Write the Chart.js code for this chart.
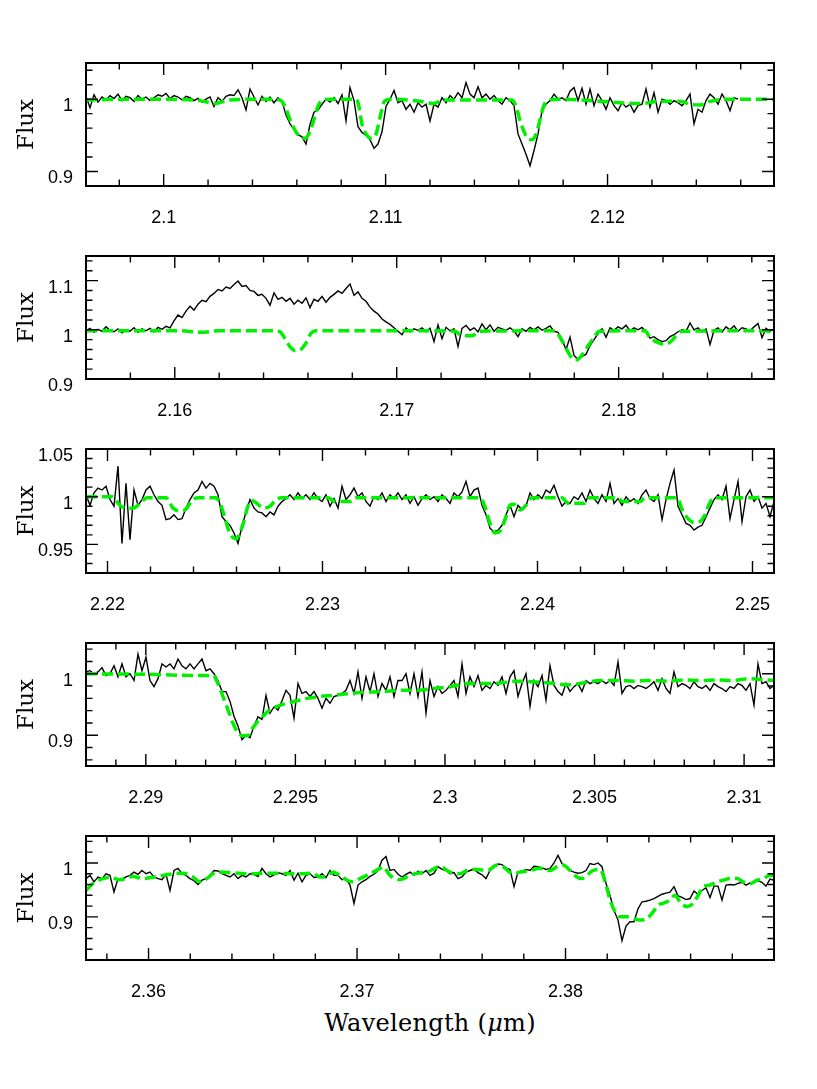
<!DOCTYPE html>
<html>
<head>
<meta charset="utf-8">
<title>Spettri</title>
<script src="https://cdn.jsdelivr.net/npm/chart.js@4.4.1/dist/chart.umd.min.js"></script>
<style>
  body { margin: 0; background: #fff; }
  #pagina { position: relative; width: 817px; height: 1089px; overflow: hidden; background: #fff; }
  #pagina canvas { position: absolute; left: 0; }
  #asseX { position: absolute; left: 86px; width: 688px; top: 1010px; text-align: center;
           font-family: "DejaVu Serif", serif; font-size: 24px; line-height: 26px; letter-spacing: 0.3px; color: #000; }
</style>
</head>
<body>
<div id="pagina">
  <div id="asseX">Wavelength (<i>μ</i>m)</div>
</div>
<script>
  // Pannello 1 (spettro a passo costante in lunghezza d'onda)
  var inizio1 = 2.0965, passo1 = 0.00018024;
  var flusso1 = [
    1.004, 0.988, 1.006, 0.996, 1.003, 0.999, 1.005, 1.001, 1.007, 0.998,
    1.004, 1.002, 0.997, 1.005, 1.000, 1.003, 0.998, 1.002, 1.006, 1.004,
    1.008, 1.001, 1.005, 1.003, 0.999, 1.004, 1.002, 0.998, 1.001, 0.996,
    1.000, 1.003, 0.990, 1.002, 0.997, 1.004, 1.006, 1.005, 1.013, 1.002,
    0.985, 1.014, 1.003, 0.992, 1.004, 0.997, 1.003, 0.995, 1.002,
    0.997, 0.978, 0.966, 0.958, 0.951, 0.948, 0.938, 0.965, 0.982, 0.985, 0.993,
    1.000, 0.996, 1.002, 0.994, 1.006, 0.970, 1.016, 0.998,
    0.962, 0.954, 0.950, 0.944, 0.932, 0.938, 0.955, 0.990,
    1.000, 1.012, 0.995,
    0.998, 0.986, 0.993, 0.982, 0.995, 0.989, 0.993, 0.970, 0.993, 0.989,
    1.002, 0.995, 1.005, 1.000, 1.009, 1.002, 1.023, 1.007, 1.002, 1.017,
    1.002, 1.007, 1.000, 1.005, 0.998, 0.993, 1.002, 0.998, 0.991,
    0.952, 0.938, 0.924, 0.908, 0.929, 0.952, 0.984, 0.993, 0.998, 1.007,
    1.000, 1.002, 0.998, 1.011, 1.016, 0.998, 1.015, 0.993, 1.014, 0.991,
    1.007, 0.998, 0.986, 1.002, 0.991, 0.984, 0.995, 0.989, 0.993, 0.982,
    0.991, 0.993, 1.014, 0.989, 1.009, 0.982, 1.000, 0.998, 0.993, 0.998,
    0.995, 0.991, 0.998, 1.007, 0.966, 0.986, 0.982, 0.998, 1.007, 1.002,
    0.993, 1.007, 0.998, 0.984, 1.002, 1.000
  ];
  var modelloLambda1 = [
    2.0965, 2.09938, 2.10164, 2.10231, 2.10299, 2.10434, 2.10524, 2.10547, 2.10569, 2.10592,
    2.10614, 2.10637, 2.10659, 2.10677, 2.10695, 2.10713, 2.10750, 2.10862, 2.10876, 2.10894,
    2.10912, 2.10934, 2.10957, 2.10975, 2.10993, 2.11020, 2.11155, 2.11214, 2.11268, 2.11516,
    2.11570, 2.11588, 2.11606, 2.11624, 2.11642, 2.11660, 2.11678, 2.11696, 2.11714, 2.11732,
    2.11786, 2.11966, 2.12056, 2.12146, 2.12236, 2.12327, 2.12372, 2.12417, 2.12462, 2.12552,
    2.1275
  ];
  var modelloFlusso1 = [
    0.999, 1.000, 0.998, 0.994, 0.999, 1.000, 0.999, 0.990, 0.972, 0.957,
    0.948, 0.946, 0.955, 0.972, 0.990, 0.998, 1.000, 1.000, 0.995, 0.965,
    0.952, 0.946, 0.952, 0.975, 0.996, 1.000, 0.997, 0.994, 0.999, 0.999,
    0.999, 0.990, 0.970, 0.955, 0.945, 0.944, 0.952, 0.972, 0.992, 0.998,
    1.000, 0.997, 0.995, 0.994, 0.997, 0.997, 0.993, 0.992, 0.997, 1.000,
    1.000
  ];
  var etichetteX1 = [2.1, 2.11, 2.12];
  var etichetteY1 = [0.9, 1];

  // Pannello 2
  var inizio2 = 2.156, passo2 = 0.00018024;
  var flusso2 = [
    0.998, 1.003, 0.995, 1.001, 0.997, 1.006, 0.999, 0.996, 1.002, 0.994,
    1.000, 0.997, 1.004, 0.995, 1.002, 0.998, 1.003, 0.996, 1.005, 1.001,
    1.007, 1.004,
    1.018, 1.030, 1.025, 1.038, 1.048, 1.040, 1.052, 1.060, 1.057, 1.068,
    1.074, 1.082, 1.079, 1.087, 1.084, 1.092, 1.099, 1.088, 1.090, 1.080,
    1.078, 1.070, 1.072, 1.064, 1.050, 1.075, 1.062, 1.066, 1.058, 1.064,
    1.052, 1.060, 1.054, 1.065, 1.045, 1.062, 1.058, 1.068, 1.056, 1.066,
    1.072, 1.079, 1.074, 1.084, 1.093, 1.070, 1.077, 1.064, 1.058, 1.046,
    1.038, 1.032, 1.022, 1.016, 1.011, 1.004, 0.997, 0.990, 1.004, 0.996,
    1.002, 0.999,
    1.004, 0.996, 1.003, 0.976, 1.010, 0.982, 1.005, 0.998, 1.002, 0.966,
    1.003, 1.009, 0.999, 1.004, 0.996, 1.012, 1.000, 1.010, 0.997, 1.005,
    1.002, 0.999, 1.004, 0.998, 0.986, 1.002, 0.997, 1.005, 1.000, 1.006,
    0.999, 1.003, 1.008, 0.997, 0.995,
    0.980, 0.960, 0.985, 0.948, 0.940, 0.946, 0.950, 0.968, 0.980, 0.992, 1.002,
    0.985, 1.004, 0.999, 1.006, 1.002, 1.009, 0.998, 1.004, 1.000, 1.005, 0.996,
    0.983, 0.986, 0.980, 0.976, 0.978, 0.986, 0.990, 0.996,
    1.000, 0.997, 1.014, 1.000, 1.004, 0.996, 1.002, 0.970, 0.999, 1.004,
    0.995, 1.006, 1.000, 1.008, 0.997, 1.004, 1.002, 0.998, 1.006, 1.013,
    0.984, 1.003, 0.997, 1.002
  ];
  var modelloLambda2 = [
    2.156, 2.16024, 2.16114, 2.16204, 2.16452, 2.16474, 2.16497, 2.16519, 2.16542, 2.16564,
    2.16591, 2.16614, 2.16636, 2.17105, 2.17263, 2.17294, 2.17339, 2.17375, 2.17713, 2.17736,
    2.17758, 2.17781, 2.17799, 2.17817, 2.17840, 2.17862, 2.17889, 2.17912, 2.18119, 2.18141,
    2.18168, 2.18200, 2.18232, 2.18259, 2.18286, 2.18660, 2.187
  ];
  var modelloFlusso2 = [
    0.998, 0.998, 0.995, 0.998, 0.998, 0.996, 0.982, 0.966, 0.958, 0.959,
    0.973, 0.993, 0.998, 0.998, 0.997, 0.988, 0.988, 0.997, 0.998, 0.985,
    0.967, 0.948, 0.939, 0.940, 0.952, 0.967, 0.985, 0.997, 0.998, 0.984,
    0.976, 0.971, 0.975, 0.988, 0.997, 0.998, 0.994
  ];
  var etichetteX2 = [2.16, 2.17, 2.18];
  var etichetteY2 = [0.9, 1, 1.1];

  // Pannello 3
  var inizio3 = 2.219, passo3 = 0.00018605;
  var flusso3 = [
    1.002, 0.991, 1.004, 1.009, 1.007, 1.011, 0.997, 0.990, 1.032, 0.951,
    1.014, 0.955, 1.007, 0.991, 0.997, 1.007, 1.011, 1.002, 0.995, 0.991,
    0.976, 0.977, 0.981, 0.976, 0.977, 0.988, 0.997, 1.004, 1.007, 1.016,
    1.009, 1.014, 1.011, 1.002, 0.979, 0.974, 0.970, 0.962, 0.951, 0.969,
    0.984, 0.997, 0.988, 0.984, 0.983, 0.979, 0.984, 0.981, 0.990, 0.995,
    0.998, 1.002, 0.997, 1.004, 0.998, 1.002, 0.997, 1.004, 0.998, 0.995,
    1.002, 0.990, 0.998, 0.988, 1.011, 0.997, 1.002, 1.009, 1.000, 1.004,
    0.995, 0.990, 1.000, 0.997, 1.004, 0.995, 1.002, 0.998, 1.004,
    0.997, 1.002, 0.993, 1.000, 0.991, 0.998, 1.002, 0.997, 1.000, 0.995,
    1.002, 0.998, 0.993, 1.004, 1.000, 1.005, 1.016, 1.000, 1.007, 1.009,
    0.991, 0.981, 0.967, 0.963, 0.965, 0.970, 0.981, 0.991, 0.979, 0.991,
    0.986, 0.990, 1.004, 0.997, 1.002, 0.998, 1.007, 1.004, 1.012, 1.000,
    0.990, 0.995, 0.993, 1.000, 0.997, 1.004, 0.995, 1.007, 0.998, 0.993,
    1.002, 0.995, 1.014, 0.993, 0.998, 0.991, 1.000, 0.995, 0.998, 0.993,
    1.002, 1.007, 0.998, 0.995, 1.002, 0.976, 0.997, 1.014, 1.028, 0.990,
    0.981, 0.972, 0.970, 0.965, 0.968, 0.970, 0.979, 0.988, 0.997, 1.002,
    0.997, 1.011, 0.977, 0.997, 1.016, 0.974, 1.000, 1.007, 0.995, 1.000,
    0.988, 0.993, 0.979, 0.995
  ];
  var modelloLambda3 = [
    2.219, 2.22021, 2.22058, 2.22086, 2.22119, 2.22151, 2.22184, 2.22272, 2.22305, 2.22337,
    2.22365, 2.22393, 2.22421, 2.22505, 2.22523, 2.22542, 2.22560, 2.22579, 2.22598, 2.22616,
    2.22635, 2.22653, 2.22672, 2.22700, 2.22723, 2.22756, 2.22784, 2.22812, 2.23026, 2.23058,
    2.23128, 2.23156, 2.23733, 2.23756, 2.23779, 2.23802, 2.23826, 2.23849, 2.23872, 2.23891,
    2.23919, 2.23946, 2.23974, 2.24114, 2.24142, 2.24216, 2.24244, 2.24374, 2.24393, 2.24477,
    2.24500, 2.24649, 2.24672, 2.24700, 2.24728, 2.24756, 2.24779, 2.24798, 2.24821, 2.251
  ];
  var modelloFlusso3 = [
    1.000, 1.000, 0.991, 0.988, 0.988, 0.993, 0.999, 0.999, 0.988, 0.985,
    0.987, 0.996, 0.999, 0.999, 0.993, 0.981, 0.967, 0.958, 0.956, 0.962,
    0.975, 0.990, 0.996, 0.992, 0.988, 0.990, 0.997, 0.999, 0.999, 0.995,
    0.995, 0.999, 0.999, 0.989, 0.972, 0.962, 0.964, 0.976, 0.991, 0.992,
    0.986, 0.991, 0.999, 0.999, 0.993, 0.993, 0.999, 0.999, 0.995, 0.995,
    0.999, 0.999, 0.987, 0.977, 0.973, 0.974, 0.981, 0.992, 0.999, 0.999
  ];
  var etichetteX3 = [2.22, 2.23, 2.24, 2.25];
  var etichetteY3 = [0.95, 1, 1.05];

  // Pannello 4
  var inizio4 = 2.288, passo4 = 0.00013372;
  var flusso4 = [
    1.003, 1.005, 1.000, 1.003, 1.010, 0.997, 1.000, 1.013, 0.995, 1.016,
    0.995, 1.000, 0.989, 1.032, 1.005, 1.027, 0.989, 0.979, 0.992, 1.016,
    1.011, 1.016, 1.008, 1.024, 1.013, 1.008, 1.016, 1.008, 1.016, 1.024,
    1.005, 1.008, 1.000, 0.989, 0.971, 0.971, 0.955, 0.931, 0.915, 0.893,
    0.900, 0.896, 0.915, 0.930, 0.926, 0.965, 0.936, 0.946, 0.941, 0.956,
    0.973, 0.965, 0.928, 0.984, 0.968, 0.971, 0.963, 0.971, 0.960, 0.944,
    0.960, 0.952, 0.963, 0.965, 0.968, 0.973, 0.989, 0.968, 1.003, 0.960,
    0.995, 0.971, 1.000, 0.963, 0.984, 0.973, 0.995, 0.963, 0.989,
    0.989, 1.000, 0.968, 1.000, 0.963, 1.003, 0.936, 0.989, 0.963, 0.979,
    0.968, 0.973, 0.981, 0.989, 0.963, 1.016, 0.968, 0.995, 0.979, 0.997,
    0.973, 0.981, 0.976, 0.987, 0.981, 0.995, 0.968, 0.995, 1.005, 0.963,
    0.984, 1.000, 0.947, 0.989, 0.979, 0.997, 0.957, 1.013, 0.981, 0.971,
    0.965, 0.984, 0.971, 0.979, 0.984, 0.971, 0.989, 0.984, 0.987, 0.984,
    0.989, 0.984, 0.989, 0.981, 1.019, 0.968, 0.979, 0.981, 0.976, 0.981,
    0.979, 0.976, 0.981, 0.987, 0.973, 0.992, 0.976, 0.968, 1.003, 0.979,
    0.984, 0.981, 0.976, 0.987, 0.979, 0.976, 0.981, 0.973, 0.984, 0.979,
    0.976, 0.971, 0.979, 0.976, 0.984, 0.981, 0.973, 0.984, 0.949, 1.016,
    0.984, 0.987, 0.976, 0.981
  ];
  var modelloLambda4 = [
    2.288, 2.29014, 2.29181, 2.29225, 2.29241, 2.29258, 2.29275, 2.29291, 2.29308, 2.29325,
    2.29342, 2.29358, 2.29375, 2.29392, 2.29408, 2.29439, 2.29472, 2.29505, 2.29539, 2.29582,
    2.29626, 2.29683, 2.29739, 2.29793, 2.29850, 2.29907, 2.29960, 2.30017, 2.30074, 2.30127,
    2.30184, 2.30241, 2.30294, 2.30351, 2.30408, 2.30461, 2.30518, 2.30575, 2.30629, 2.30685,
    2.30742, 2.30796, 2.30853, 2.30909, 2.30963, 2.31020, 2.31077, 2.311
  ];
  var modelloFlusso4 = [
    1.000, 0.999, 0.997, 0.997, 0.984, 0.963, 0.941, 0.920, 0.904, 0.899,
    0.900, 0.912, 0.923, 0.931, 0.939, 0.947, 0.952, 0.956, 0.960, 0.963,
    0.965, 0.968, 0.970, 0.971, 0.973, 0.973, 0.976, 0.979, 0.984, 0.984,
    0.985, 0.988, 0.987, 0.985, 0.982, 0.985, 0.989, 0.989, 0.988, 0.989,
    0.988, 0.990, 0.989, 0.990, 0.989, 0.992, 0.990, 0.989
  ];
  var etichetteX4 = [2.29, 2.295, 2.3, 2.305, 2.31];
  var etichetteY4 = [0.9, 1];

  // Pannello 5
  var inizio5 = 2.357, passo5 = 0.00019186;
  var flusso5 = [
    0.971, 0.977, 0.965, 0.974, 0.971, 0.980, 0.977, 0.946, 0.971, 0.969,
    0.974, 0.977, 0.983, 0.979, 0.986, 0.980, 0.983, 0.974, 0.971, 0.969,
    0.979, 0.949, 0.986, 0.990, 0.980, 0.977, 0.971, 0.967, 0.960, 0.968,
    0.971, 0.977, 0.986, 0.985, 0.980, 0.977, 0.974, 0.980, 0.971, 0.977,
    0.974, 0.980, 0.979, 0.975, 0.990, 0.980, 0.974, 0.978, 0.982, 0.980,
    0.977, 0.986, 0.968, 0.981, 0.965, 0.977, 0.980, 0.973, 0.974, 0.980,
    0.973, 0.986, 0.977, 0.977, 0.969, 0.971, 0.959, 0.925, 0.959, 0.965,
    0.969, 0.975, 0.979, 0.986, 1.005, 1.012, 0.986, 0.988, 0.979,
    0.974, 0.979, 0.983, 0.977, 0.985, 0.980, 0.986, 0.977, 0.981, 0.993,
    0.988, 0.986, 0.980, 0.982, 0.971, 0.974, 0.983, 0.986, 0.989, 0.982,
    0.978, 0.971, 0.986, 0.993, 0.998, 0.997, 0.991, 0.988, 0.956, 0.983,
    0.985, 0.988, 0.986, 0.994, 0.993, 0.991, 0.988, 0.990, 1.000, 1.014,
    0.999, 0.993, 0.986, 0.983, 0.981, 0.982, 0.986, 0.999, 0.997, 1.000,
    0.993, 0.962, 0.940, 0.912, 0.894, 0.856, 0.883, 0.891, 0.891, 0.915,
    0.928, 0.929, 0.931, 0.934, 0.938, 0.942, 0.944, 0.946, 0.956, 0.939,
    0.936, 0.932, 0.934, 0.948, 0.942, 0.949, 0.954, 0.936, 0.957, 0.957,
    0.931, 0.959, 0.960, 0.959, 0.962, 0.964, 0.959, 0.963, 0.964, 0.967,
    0.964, 0.957, 0.970, 0.968
  ];
  var modelloLambda5 = [
    2.357, 2.35734, 2.35767, 2.35815, 2.35863, 2.35925, 2.35973, 2.36041, 2.36117, 2.36165,
    2.36213, 2.36247, 2.36280, 2.36309, 2.36343, 2.36472, 2.36597, 2.36727, 2.36789, 2.36822,
    2.36856, 2.36885, 2.36918, 2.36952, 2.36976, 2.37014, 2.37062, 2.37110, 2.37125, 2.37158,
    2.37206, 2.37254, 2.37288, 2.37336, 2.37398, 2.37446, 2.37494, 2.37528, 2.37576, 2.37624,
    2.37672, 2.37700, 2.37748, 2.37782, 2.37830, 2.37878, 2.37926, 2.37959, 2.37988, 2.38022,
    2.38055, 2.38079, 2.38103, 2.38132, 2.38166, 2.38190, 2.38214, 2.38238, 2.38262, 2.38295,
    2.38324, 2.38358, 2.38391, 2.38420, 2.38444, 2.38468, 2.38501, 2.38525, 2.38549, 2.38583,
    2.38612, 2.38636, 2.38660, 2.38693, 2.38727, 2.38756, 2.38789, 2.38823, 2.38852, 2.38885,
    2.38919, 2.38948, 2.38981, 2.39
  ];
  var modelloFlusso5 = [
    0.949, 0.962, 0.969, 0.973, 0.969, 0.975, 0.971, 0.975, 0.980, 0.981,
    0.974, 0.965, 0.971, 0.980, 0.983, 0.980, 0.981, 0.980, 0.981, 0.974,
    0.975, 0.983, 0.977, 0.968, 0.965, 0.971, 0.980, 0.990, 0.993, 0.977,
    0.969, 0.977, 0.981, 0.983, 0.993, 0.983, 0.980, 0.986, 0.988, 0.986,
    0.996, 0.993, 0.980, 0.983, 0.986, 0.990, 0.986, 0.993, 0.996, 0.986,
    0.974, 0.971, 0.977, 0.986, 0.988, 0.965, 0.931, 0.909, 0.900, 0.900,
    0.897, 0.894, 0.897, 0.909, 0.922, 0.925, 0.931, 0.940, 0.928, 0.919,
    0.925, 0.940, 0.956, 0.959, 0.965, 0.968, 0.971, 0.971, 0.965, 0.962,
    0.968, 0.971, 0.977, 0.977
  ];
  var etichetteX5 = [2.36, 2.37, 2.38];
  var etichetteY5 = [0.9, 1];

  // Posizione e assi di ogni pannello
  var pannelli = [
    { top: 63, h: 123, xMin: 2.0965, xMax: 2.1275, xPasso: 0.002, yMin: 0.88, yMax: 1.05, yPasso: 0.02,
      inizio: inizio1, passo: passo1, flusso: flusso1, mLambda: modelloLambda1, mFlusso: modelloFlusso1, etX: etichetteX1, etY: etichetteY1 },
    { top: 256, h: 123, xMin: 2.156, xMax: 2.187, xPasso: 0.002, yMin: 0.9, yMax: 1.15, yPasso: 0.02,
      inizio: inizio2, passo: passo2, flusso: flusso2, mLambda: modelloLambda2, mFlusso: modelloFlusso2, etX: etichetteX2, etY: etichetteY2 },
    { top: 449, h: 124, xMin: 2.219, xMax: 2.251, xPasso: 0.002, yMin: 0.92, yMax: 1.05, yPasso: 0.01,
      inizio: inizio3, passo: passo3, flusso: flusso3, mLambda: modelloLambda3, mFlusso: modelloFlusso3, etX: etichetteX3, etY: etichetteY3 },
    { top: 643, h: 123, xMin: 2.288, xMax: 2.311, xPasso: 0.001, yMin: 0.85, yMax: 1.05, yPasso: 0.02,
      inizio: inizio4, passo: passo4, flusso: flusso4, mLambda: modelloLambda4, mFlusso: modelloFlusso4, etX: etichetteX4, etY: etichetteY4 },
    { top: 836, h: 124, xMin: 2.357, xMax: 2.39, xPasso: 0.002, yMin: 0.82, yMax: 1.05, yPasso: 0.02,
      inizio: inizio5, passo: passo5, flusso: flusso5, mLambda: modelloLambda5, mFlusso: modelloFlusso5, etX: etichetteX5, etY: etichetteY5 }
  ];

  // Funzione per costruire i punti dello spettro osservato
  function spettro(inizio, passo, flusso) {
    return flusso.map(function (f, i) { return { x: inizio + i * passo, y: f }; });
  }

  // Funzione per costruire i punti del modello
  function modello(lambda, flusso) {
    return lambda.map(function (l, i) { return { x: l, y: flusso[i] }; });
  }

  // Tacche principali e secondarie
  function tacche(min, max, passo) {
    var lista = [];
    var k0 = Math.ceil(min / passo - 1e-6), k1 = Math.floor(max / passo + 1e-6);
    for (var k = k0; k <= k1; k++) lista.push({ value: +(k * passo).toFixed(6) });
    return lista;
  }

  function etichetta(valore, etichette) {
    for (var i = 0; i < etichette.length; i++) {
      if (Math.abs(valore - etichette[i]) < 1e-7) return String(etichette[i]);
    }
    return '';
  }

  // Cornice con tacche verso l'interno su tutti i lati
  var cornice = {
    id: 'cornice',
    afterDatasetsDraw: function (chart) {
      var ctx = chart.ctx, area = chart.chartArea;
      var sx = chart.scales.x, sy = chart.scales.y;
      ctx.save();
      ctx.strokeStyle = '#000';
      ctx.lineWidth = 1.4;
      ctx.beginPath();
      sx.ticks.forEach(function (t) {
        var p = sx.getPixelForValue(t.value);
        var l = t.label ? 12 : 6.5;
        ctx.moveTo(p, area.bottom); ctx.lineTo(p, area.bottom - l);
        ctx.moveTo(p, area.top); ctx.lineTo(p, area.top + l);
      });
      sy.ticks.forEach(function (t) {
        var p = sy.getPixelForValue(t.value);
        var l = t.label ? 12 : 6.5;
        ctx.moveTo(area.left, p); ctx.lineTo(area.left + l, p);
        ctx.moveTo(area.right, p); ctx.lineTo(area.right - l, p);
      });
      ctx.stroke();
      ctx.lineWidth = 2;
      ctx.strokeRect(area.left, area.top, area.right - area.left, area.bottom - area.top);
      ctx.restore();
    }
  };

  Chart.defaults.font.family = "'Liberation Sans', Arial, sans-serif";
  Chart.defaults.color = '#000';

  var pagina = document.getElementById('pagina');

  // Crea un grafico per ogni pannello
  pannelli.forEach(function (p) {
    var tela = document.createElement('canvas');
    tela.width = 817;
    tela.height = 8 + p.h + 50;
    tela.style.top = (p.top - 8) + 'px';
    pagina.appendChild(tela);

    new Chart(tela.getContext('2d'), {
      type: 'line',
      data: {
        datasets: [{
          data: modello(p.mLambda, p.mFlusso),
          borderColor: '#00f000',
          borderWidth: 3.5,
          borderDash: [11, 5],
          cubicInterpolationMode: 'monotone',
          pointRadius: 0,
          fill: false
        }, {
          data: spettro(p.inizio, p.passo, p.flusso),
          borderColor: '#000',
          borderWidth: 1.4,
          pointRadius: 0,
          fill: false
        }]
      },
      options: {
        responsive: false,
        animation: false,
        devicePixelRatio: 1,
        events: [],
        layout: { padding: { top: 8, right: 43, left: 0, bottom: 0 } },
        plugins: { legend: { display: false }, tooltip: { enabled: false } },
        scales: {
          x: {
            type: 'linear',
            min: p.xMin,
            max: p.xMax,
            grid: { display: false, drawTicks: false },
            border: { display: false },
            afterBuildTicks: function (s) { s.ticks = tacche(p.xMin, p.xMax, p.xPasso); },
            afterFit: function (s) { s.height = 50; s.paddingLeft = 0; s.paddingRight = 0; },
            ticks: {
              autoSkip: false, maxRotation: 0, minRotation: 0, padding: 21,
              font: { size: 18 },
              callback: function (v) { return etichetta(v, p.etX); }
            }
          },
          y: {
            type: 'linear',
            min: p.yMin,
            max: p.yMax,
            grid: { display: false, drawTicks: false },
            border: { display: false },
            afterBuildTicks: function (s) { s.ticks = tacche(p.yMin, p.yMax, p.yPasso); },
            afterFit: function (s) { s.width = 86; s.paddingTop = 0; s.paddingBottom = 0; },
            ticks: {
              autoSkip: false, padding: 13, labelOffset: 7,
              font: { size: 18 },
              callback: function (v) { return etichetta(v, p.etY); }
            },
            title: {
              display: true, text: 'Flux',
              font: { family: "'DejaVu Serif', serif", size: 23 },
              padding: { top: 13, bottom: 0 }
            }
          }
        }
      },
      plugins: [cornice]
    });
  });
</script>
</body>
</html>
